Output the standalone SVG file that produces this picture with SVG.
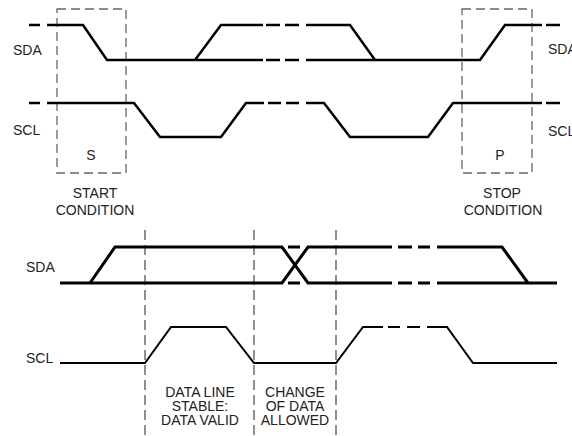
<svg xmlns="http://www.w3.org/2000/svg" width="572" height="436" viewBox="0 0 572 436">
<style>
.sig{fill:none;stroke:#000;stroke-width:2.5;stroke-linejoin:miter}
.sda{fill:none;stroke:#000;stroke-width:3}
.scl{fill:none;stroke:#000;stroke-width:2}
.box{fill:none;stroke:#666;stroke-width:1.3;stroke-dasharray:9 5}
.vl{fill:none;stroke:#555;stroke-width:1.3;stroke-dasharray:10 5}
text{font-family:"Liberation Sans",Arial,sans-serif;font-size:14px;fill:#222}
.c{text-anchor:middle}
</style>
<rect width="572" height="436" fill="#fff"/>
<g id="top-labels">
<text x="13" y="55">SDA</text>
<text x="13" y="135">SCL</text>
<text x="548" y="54">SDA</text>
<text x="548" y="136">SCL</text>
</g>
<g id="start-box">
<rect class="box" x="57" y="9" width="69" height="164"/>
<text class="c" x="91" y="160">S</text>
<text class="c" x="95" y="198">START</text>
<text class="c" x="95" y="215">CONDITION</text>
</g>
<g id="stop-box">
<rect class="box" x="462" y="9" width="70" height="164"/>
<text class="c" x="500" y="160">P</text>
<text class="c" x="502" y="198">STOP</text>
<text class="c" x="503" y="215">CONDITION</text>
</g>
<g id="top-sda">
<path class="sig" d="M29 25H40M47 25H83L107 60H263M266 60H280M285 60H299M306 60H480L505 25H542M546 25H560"/>
<path class="sig" d="M195 60L221 25H263M266 25H280M285 25H299M306 25H350L375 60"/>
</g>
<g id="top-scl">
<path class="sig" d="M29 103H40M47 103H134L160 137H221L246 103H264M268 103H281M286 103H299M306 103H324L350 137H428L453 103H542M546 103H560"/>
</g>
<g id="bottom-lines">
<path class="vl" d="M145 230V436M254 230V436M336 230V436"/>
</g>
<g id="bottom-labels">
<text x="26" y="272">SDA</text>
<text x="26" y="363">SCL</text>
<text class="c" x="200" y="397">DATA LINE</text>
<text class="c" x="200" y="411">STABLE:</text>
<text class="c" x="200" y="425">DATA VALID</text>
<text class="c" x="295" y="397">CHANGE</text>
<text class="c" x="295" y="411">OF DATA</text>
<text class="c" x="295" y="425">ALLOWED</text>
</g>
<g id="bottom-sda">
<path class="sda" d="M60 283H282L308 247H392M398 247H412M418 247H430M437 247H502L528 283"/>
<path class="sda" d="M90 283L115 247H282L308 283H392M398 283H412M418 283H430M437 283H557"/>
<path class="sda" d="M288 247H300M288 283H300"/>
</g>
<g id="bottom-scl">
<path class="scl" d="M60 363H145L171 327H226L254 363H336L363 327H383M388 327H400M407 327H420M427 327H447L473 363H557"/>
</g>
</svg>
